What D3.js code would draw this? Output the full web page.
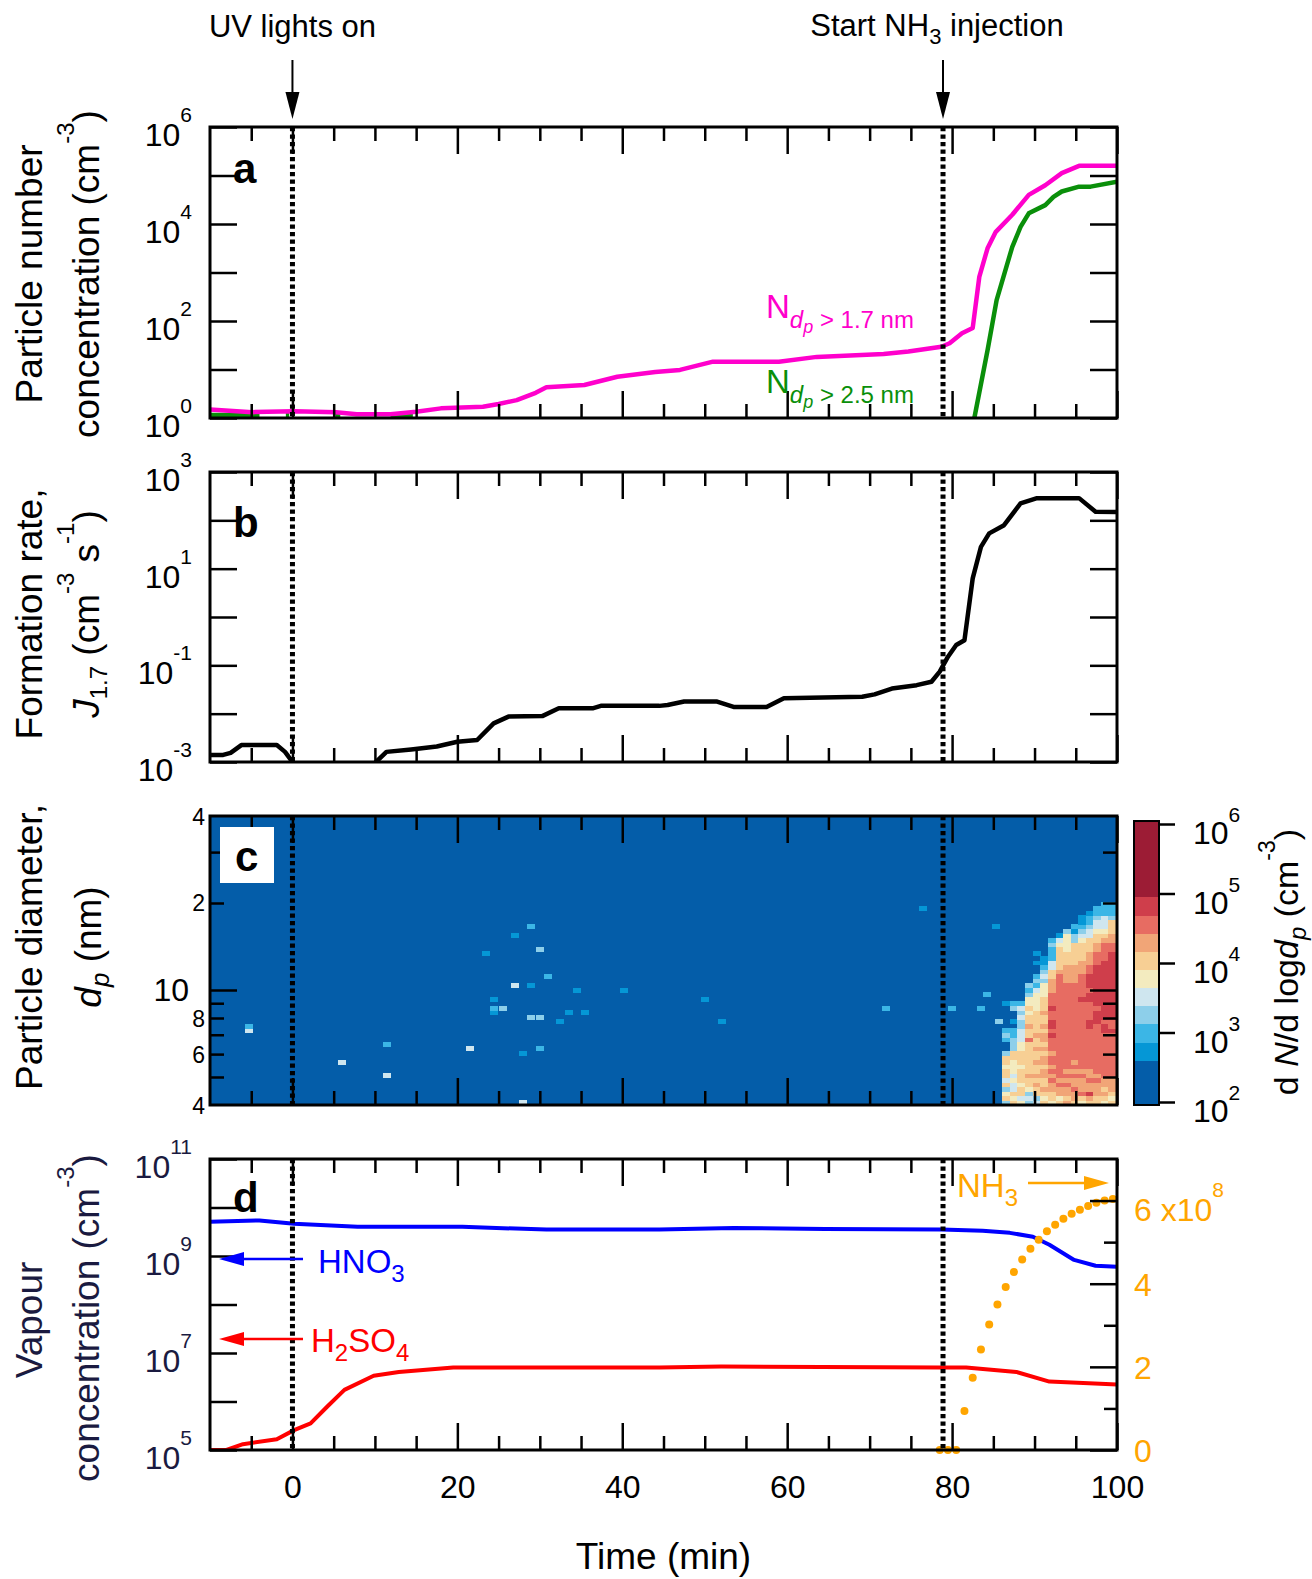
<!DOCTYPE html>
<html><head><meta charset="utf-8">
<script src="https://cdn.jsdelivr.net/npm/d3@7"></script>
<style>
body{margin:0;background:#fff}
svg{display:block}
text{font-family:"Liberation Sans",Arial,Helvetica,sans-serif;white-space:pre}
</style>
</head><body>
<svg id="chart" width="1312" height="1579"></svg>
<script>
// ---------------- DATA ----------------
// Panel a: particle number concentration (cm^-3)
const timeMag = [-10, -4.9, 0.2, 5.3, 7.8, 11.9, 15, 18, 23.1, 25, 27.2, 29.5, 30.8, 35.4, 39.4, 44, 47, 51, 59, 63.6, 71.7, 74.7, 78.7, 79.7, 81.2, 82.5, 83.3, 84.3, 85.3, 87.3, 89.3, 91.3, 93.3, 95.4, 100];
const nAbove17 = [1.5, 1.32, 1.38, 1.32, 1.2, 1.2, 1.35, 1.58, 1.7, 1.95, 2.34, 3.3, 4.3, 4.8, 7.1, 8.9, 9.8, 14.5, 14.5, 18.2, 20.9, 23.4, 29.5, 34.7, 56, 72, 813, 3160, 6900, 15500, 39800, 63100, 112000, 158000, 158000];
const timeGrn = [-10, -7, -4, -3.9, -0.8, -0.4, -0.3, 5.2, 5.8, 5.9, 11.9, 13.5, 14.6, 14.7, 82.7, 84.3, 85.4, 87.3, 88.3, 89.3, 91.3, 92.3, 93.3, 95.4, 96.8, 100];
const nAbove25 = [1.15, 1.15, 1.15, null, 1.15, 1.15, null, 1.15, 1.15, null, 1.15, 1.15, 1.15, null, 1.0, 25, 270, 3390, 8700, 16600, 24500, 36300, 46800, 58900, 58900, 74100];

// Panel b: formation rate J1.7 (cm^-3 s^-1)
const timeJ = [-10, -8.4, -7.5, -6.2, -1.9, -0.9, 0.2, 0.3, 9.85, 11.4, 14.4, 17.5, 20, 22.4, 24.4, 26.2, 30.3, 32.3, 36.4, 37.4, 44.5, 45.5, 47.5, 51.5, 53.5, 57.5, 59.6, 69.1, 70.6, 72.7, 75.7, 77.5, 78.5, 79.5, 80.5, 81.5, 82.5, 83.5, 84.5, 86.3, 88.3, 90.3, 95.4, 97.4, 100];
const j17 = [0.0014, 0.0014, 0.00155, 0.00224, 0.00224, 0.00162, 0.0009, null, 0.0009, 0.00162, 0.00182, 0.00209, 0.00263, 0.00285, 0.0063, 0.0087, 0.0089, 0.0129, 0.0129, 0.0145, 0.0145, 0.0151, 0.0178, 0.0178, 0.0138, 0.0138, 0.0209, 0.0224, 0.0251, 0.0331, 0.0389, 0.0457, 0.0741, 0.151, 0.263, 0.331, 6.3, 28.2, 53.7, 79.4, 224, 288, 288, 151, 148];

// Panel c: size distribution (level index per cell, rows from 4 nm upward)
const heatLevelColors = ["#045da9", "#0597d6", "#3bb6e6", "#8dcfea", "#cfe6ef", "#f3ebbf", "#f7cf94", "#f1a577", "#e76c62", "#cf3e4b", "#9c1c35"];
const heatLevelBounds = [1.957, 2.6, 2.86, 3.12, 3.38, 3.64, 3.9, 4.16, 4.42, 4.68, 4.95, 6.043]; // log10 dN/dlogdp
const heatDiamMin = 4, heatBinsPerDecade = 64;
const heatColEdges = [86.1, 87.0, 87.9, 88.8, 89.8, 90.7, 91.6, 92.6, 93.5, 94.4, 95.3, 96.2, 97.1, 98.0, 98.9, 100];
const heatCols = [
  "36536466566300232000001",
  "65644545556633322010032",
  "54665666566655444334342",
  "343566766666668667665655323",
  "4366767667667667666665555423200101",
  "656766776776767767667666555343211",
  "5667787878878889899889888777664422232",
  "65778788888888888888888888888766666541",
  "767787878888888888888888888777766655553",
  "6778778787888888888888888887777666663312",
  "568777878888888888888889888887776666543211",
  "6797787788888888899888899899988777666443221",
  "66777878888888888899989999999998887766544322",
  "567677888888888899899999999999998888765444222",
  "656777888888888898899999999999999988776663222"
];
const heatSpeckWidth = 0.92;
const heatSpecks = [
  [-5.7, 16, 4], [-5.7, 17, 2], [5.5, 9, 4], [11.0, 13, 2], [11.0, 6, 4], [21.0, 12, 4],
  [23.0, 33, 1], [26.5, 37, 1], [28.5, 39, 2], [29.5, 34, 3], [30.5, 28, 2], [26.5, 26, 4],
  [28.5, 26, 1], [34.0, 25, 1], [39.7, 25, 1], [23.9, 23, 1], [23.9, 20, 1], [23.9, 21, 2],
  [25.0, 21, 3], [28.5, 19, 3], [29.5, 19, 3], [33.0, 20, 1], [35.0, 20, 1], [32.0, 18, 1],
  [27.5, 11, 1], [29.5, 12, 2], [27.5, 0, 4], [49.5, 23, 1], [51.6, 18, 1], [71.5, 21, 2],
  [76.0, 43, 1], [79.5, 21, 2], [83.0, 21, 2], [83.7, 24, 2], [84.8, 39, 1], [85.2, 18, 3]
];

// Panel d: vapour concentrations
const timeHNO3 = [-10, -4, 0.2, 7.9, 20.6, 30.8, 44.5, 53.5, 64.6, 78.7, 83.7, 87, 89.8, 91.8, 94.8, 97.4, 100];
const hno3 = [5.1e9, 5.4e9, 4.6e9, 4.0e9, 4.0e9, 3.5e9, 3.5e9, 3.8e9, 3.6e9, 3.5e9, 3.3e9, 3.0e9, 2.5e9, 1.7e9, 8.3e8, 6.3e8, 6.0e8];
const timeH2SO4 = [-10, -8, -6, -1.9, 0.2, 2.2, 4.2, 6.3, 9.85, 12.9, 19.5, 44.5, 52, 78.7, 81.7, 87.8, 91.8, 100];
const h2so4 = [1e5, 1e5, 1.32e5, 1.66e5, 2.57e5, 3.55e5, 7.8e5, 1.74e6, 3.39e6, 4.07e6, 5.0e6, 5.0e6, 5.25e6, 5.0e6, 5.0e6, 4.07e6, 2.57e6, 2.24e6];
const timeNH3 = [78.5, 79.5, 80.5, 81.5, 82.5, 83.5, 84.5, 85.5, 86.5, 87.5, 88.5, 89.5, 90.5, 91.5, 92.5, 93.5, 94.5, 95.5, 96.5, 97.5, 98.5, 99.5];
const nh3 = [0, 0, 0, 0.94e8, 1.74e8, 2.42e8, 3.02e8, 3.5e8, 3.92e8, 4.28e8, 4.58e8, 4.84e8, 5.06e8, 5.26e8, 5.42e8, 5.56e8, 5.68e8, 5.78e8, 5.87e8, 5.95e8, 6.0e8, 6.04e8];

// Events and ticks
const eventTimes = [0, 78.9];
const xMajorTicks = [0, 20, 40, 60, 80, 100];
const xMinorTicks = [-5, 5, 10, 15, 25, 30, 35, 45, 50, 55, 65, 70, 75, 85, 90, 95];
const aDecades = [1, 10, 100, 1e3, 1e4, 1e5, 1e6];
const aLabels = [1, 1e2, 1e4, 1e6];
const bDecades = [1e-3, 1e-2, 1e-1, 1, 10, 100, 1e3];
const bLabels = [1e-3, 1e-1, 10, 1e3];
const cMajorTicks = [10];
const cMinorTicks = [5, 6, 7, 8, 9, 20, 30];
const cLabelVals = [4, 6, 8, 10, 20, 40];
const cLabelText = ["4", "6", "8", "10", "2", "4"];
const cbDecades = [1e2, 1e3, 1e4, 1e5, 1e6];
const dDecades = [1e5, 1e6, 1e7, 1e8, 1e9, 1e10, 1e11];
const dLabels = [1e5, 1e7, 1e9, 1e11];
const d2Major = [0, 2e8, 4e8, 6e8];
const d2Minor = [1e8, 3e8, 5e8];
const d2LabelText = ["0", "2", "4", "6 x10"];

// ---------------- DRAWING ----------------
const svg = d3.select("#chart");
const L = 210, R = 1117;
const P = { a: [127, 418], b: [472, 762], c: [816, 1105], d: [1159, 1450] };
const x = d3.scaleLinear().domain([-10, 100]).range([L, R]);
const ya = d3.scaleLog().domain([1, 1e6]).range([P.a[1], P.a[0]]);
const yb = d3.scaleLog().domain([1e-3, 1e3]).range([P.b[1], P.b[0]]);
const yc = d3.scaleLog().domain([4, 40]).range([P.c[1], P.c[0]]);
const yd = d3.scaleLog().domain([1e5, 1e11]).range([P.d[1], P.d[0]]);
const yd2 = d3.scaleLinear().domain([0, 7e8]).range([P.d[1], P.d[0]]);
const cb = d3.scaleLog().domain([1e2, 1e6]).range([1102, 824]);

const NAVY = "#1a1a40", MAG = "#ff00cc", GRN = "#0a8f0a", ORG = "#ffa500";

function rich(t, parts) {
  let cur = 0;
  parts.forEach(p => {
    const sh = p.sh || 0;
    const s = t.append("tspan").text(p.t);
    if (sh - cur !== 0) s.attr("dy", sh - cur);
    if (p.fs) s.attr("font-size", p.fs);
    if (p.it) s.attr("font-style", "italic");
    cur = sh;
  });
  return t;
}

const defs = svg.append("defs");
Object.entries(P).forEach(([k, [t, b]]) => {
  defs.append("clipPath").attr("id", "clip" + k).append("rect")
    .attr("x", L).attr("y", t).attr("width", R - L).attr("height", b - t);
});

function ticks(axisFn, scale, vals, size, tx, ty) {
  svg.append("g").attr("transform", `translate(${tx},${ty})`)
    .call(axisFn(scale).tickValues(vals).tickSize(size).tickFormat(""))
    .call(g => g.select(".domain").remove())
    .call(g => g.selectAll("line").attr("stroke", "#000").attr("stroke-width", 2.5));
}
function xTicks(top, bottom) {
  ticks(d3.axisBottom, x, xMajorTicks, -27, 0, bottom);
  ticks(d3.axisBottom, x, xMinorTicks, -14, 0, bottom);
  ticks(d3.axisTop, x, xMajorTicks, -27, 0, top);
  ticks(d3.axisTop, x, xMinorTicks, -14, 0, top);
}
function logLabels(vals, scale, xEnd, color) {
  vals.forEach(v => {
    const e = Math.round(Math.log10(v));
    const t = svg.append("text").attr("x", xEnd).attr("y", scale(v) + 19)
      .attr("text-anchor", "end").attr("font-size", 32).attr("fill", color);
    rich(t, [{ t: "10" }, { t: String(e), sh: -24, fs: 21 }]);
  });
}
function yTitle(bx, cy, parts, color) {
  const t = svg.append("text").attr("transform", `translate(${bx},${cy}) rotate(-90)`)
    .attr("text-anchor", "middle").attr("font-size", 37).attr("fill", color || "#000");
  rich(t, parts);
}
function frame(k) {
  svg.append("rect").attr("x", L).attr("y", P[k][0]).attr("width", R - L).attr("height", P[k][1] - P[k][0])
    .attr("fill", "none").attr("stroke", "#000").attr("stroke-width", 3);
}
function eventLines(k) {
  eventTimes.forEach(t => {
    svg.append("line").attr("x1", x(t)).attr("x2", x(t)).attr("y1", P[k][0]).attr("y2", P[k][1])
      .attr("stroke", "#000").attr("stroke-width", 5).attr("stroke-dasharray", "4.2,3.3");
  });
}
function panelLabel(txt, px, py) {
  svg.append("text").attr("x", px).attr("y", py).attr("font-size", 42).attr("font-weight", "bold").text(txt);
}
function linePath(k, ts, vs, ysc, color, w) {
  const data = ts.map((t, i) => [t, vs[i]]);
  svg.append("path").datum(data).attr("clip-path", `url(#clip${k})`)
    .attr("d", d3.line().defined(d => d[1] !== null).x(d => x(d[0])).y(d => ysc(d[1])))
    .attr("fill", "none").attr("stroke", color).attr("stroke-width", w)
    .attr("stroke-linejoin", "round").attr("stroke-linecap", "butt");
}

// ---- Top annotations ----
function eventArrow(t) {
  const ax = x(t);
  svg.append("line").attr("x1", ax).attr("x2", ax).attr("y1", 60).attr("y2", 96).attr("stroke", "#000").attr("stroke-width", 2);
  svg.append("path").attr("d", `M${ax - 7},92 L${ax + 7},92 L${ax},119 Z`).attr("fill", "#000");
}
eventArrow(eventTimes[0]);
eventArrow(eventTimes[1]);
svg.append("text").attr("x", x(eventTimes[0])).attr("y", 37).attr("text-anchor", "middle").attr("font-size", 31).text("UV lights on");
rich(svg.append("text").attr("x", 937).attr("y", 36).attr("text-anchor", "middle").attr("font-size", 31),
  [{ t: "Start NH" }, { t: "3", sh: 8, fs: 22 }, { t: " injection" }]);

// ---- Panel a ----
linePath("a", timeGrn, nAbove25, ya, GRN, 4.5);
linePath("a", timeMag, nAbove17, ya, MAG, 4.5);
xTicks(P.a[0], P.a[1]);
ticks(d3.axisLeft, ya, aDecades, -27, L, 0);
ticks(d3.axisRight, ya, aDecades, -27, R, 0);
eventLines("a");
frame("a");
logLabels(aLabels, ya, 192, "#000");
panelLabel("a", 233, 183);
yTitle(42, 274, [{ t: "Particle number" }]);
yTitle(99, 274, [{ t: "concentration (cm" }, { t: "-3", sh: -25, fs: 24 }, { t: ")" }]);
rich(svg.append("text").attr("x", 766).attr("y", 318).attr("font-size", 33).attr("fill", MAG),
  [{ t: "N" }, { t: "d", sh: 10, fs: 24, it: true }, { t: "p", sh: 15, fs: 18, it: true }, { t: " > 1.7 nm", sh: 10, fs: 24 }]);
rich(svg.append("text").attr("x", 766).attr("y", 393).attr("font-size", 33).attr("fill", GRN),
  [{ t: "N" }, { t: "d", sh: 10, fs: 24, it: true }, { t: "p", sh: 15, fs: 18, it: true }, { t: " > 2.5 nm", sh: 10, fs: 24 }]);

// ---- Panel b ----
linePath("b", timeJ, j17, yb, "#000", 4.5);
xTicks(P.b[0], P.b[1]);
ticks(d3.axisLeft, yb, bDecades, -27, L, 0);
ticks(d3.axisRight, yb, bDecades, -27, R, 0);
eventLines("b");
frame("b");
logLabels(bLabels, yb, 192, "#000");
panelLabel("b", 233, 537);
yTitle(42, 614, [{ t: "Formation rate," }]);
yTitle(99, 614, [{ t: "J", it: true }, { t: "1.7", sh: 8, fs: 24 }, { t: " (cm" }, { t: "-3", sh: -25, fs: 24 }, { t: " s" }, { t: "-1", sh: -25, fs: 24 }, { t: ")" }]);

// ---- Panel c (heatmap) ----
const gHeat = svg.append("g").attr("clip-path", "url(#clipc)").attr("shape-rendering", "crispEdges");
gHeat.append("rect").attr("x", x(-10)).attr("y", yc(40)).attr("width", x(100) - x(-10)).attr("height", yc(4) - yc(40))
  .attr("fill", heatLevelColors[0]);
const rowLow = r => heatDiamMin * Math.pow(10, r / heatBinsPerDecade);
const cells = [];
heatCols.forEach((col, j) => {
  col.split("").forEach((ch, r) => {
    const lev = parseInt(ch, 16);
    if (lev > 0) cells.push({ t0: heatColEdges[j], t1: heatColEdges[j + 1], r, lev });
  });
});
heatSpecks.forEach(([t, r, lev]) => cells.push({ t0: t, t1: t + heatSpeckWidth, r, lev }));
gHeat.selectAll("rect.cell").data(cells).join("rect").attr("class", "cell")
  .attr("x", d => x(d.t0)).attr("width", d => x(d.t1) - x(d.t0) + 0.4)
  .attr("y", d => yc(rowLow(d.r + 1))).attr("height", d => yc(rowLow(d.r)) - yc(rowLow(d.r + 1)) + 0.4)
  .attr("fill", d => heatLevelColors[d.lev]);
xTicks(P.c[0], P.c[1]);
ticks(d3.axisLeft, yc, cMajorTicks, -27, L, 0);
ticks(d3.axisLeft, yc, cMinorTicks, -14, L, 0);
ticks(d3.axisRight, yc, cMajorTicks, -27, R, 0);
ticks(d3.axisRight, yc, cMinorTicks, -14, R, 0);
eventLines("c");
frame("c");
cLabelVals.forEach((v, i) => {
  const big = cLabelText[i] === "10";
  svg.append("text").attr("x", big ? 189 : 205).attr("y", yc(v) + (big ? 11 : 8.5))
    .attr("text-anchor", "end").attr("font-size", big ? 32 : 23).text(cLabelText[i]);
});
svg.append("rect").attr("x", 220).attr("y", 827).attr("width", 54).attr("height", 56).attr("fill", "#fff");
panelLabel("c", 235, 871);
yTitle(42, 947, [{ t: "Particle diameter," }]);
yTitle(101, 947, [{ t: "d", it: true }, { t: "p", it: true, sh: 8, fs: 26 }, { t: " (nm)" }]);

// colour bar
const gCb = svg.append("g").attr("shape-rendering", "crispEdges");
heatLevelColors.forEach((c, i) => {
  const yTop = cb(Math.pow(10, heatLevelBounds[i + 1]));
  const yBot = cb(Math.pow(10, heatLevelBounds[i]));
  gCb.append("rect").attr("x", 1134).attr("width", 25).attr("y", yTop).attr("height", yBot - yTop + 0.3).attr("fill", c);
});
svg.append("rect").attr("x", 1134).attr("width", 25)
  .attr("y", cb(Math.pow(10, heatLevelBounds[heatLevelBounds.length - 1])))
  .attr("height", cb(Math.pow(10, heatLevelBounds[0])) - cb(Math.pow(10, heatLevelBounds[heatLevelBounds.length - 1])))
  .attr("fill", "none").attr("stroke", "#000").attr("stroke-width", 2);
ticks(d3.axisRight, cb, cbDecades, 16, 1159, 0);
cbDecades.forEach(v => {
  const t = svg.append("text").attr("x", 1193).attr("y", cb(v) + 20).attr("font-size", 32);
  rich(t, [{ t: "10" }, { t: String(Math.round(Math.log10(v))), sh: -22, fs: 21 }]);
});
rich(svg.append("text").attr("transform", "translate(1298,962) rotate(-90)").attr("text-anchor", "middle").attr("font-size", 34),
  [{ t: "d " }, { t: "N", it: true }, { t: "/d log" }, { t: "d", it: true }, { t: "p", it: true, sh: 8, fs: 24 }, { t: " (cm" }, { t: "-3", sh: -23, fs: 23 }, { t: ")" }]);

// ---- Panel d ----
linePath("d", timeHNO3, hno3, yd, "#0000ff", 4);
linePath("d", timeH2SO4, h2so4, yd, "#ff0000", 4);
svg.append("g").selectAll("circle").data(timeNH3.map((t, i) => [t, nh3[i]])).join("circle")
  .attr("cx", d => x(d[0])).attr("cy", d => yd2(d[1])).attr("r", 4).attr("fill", ORG);
xTicks(P.d[0], P.d[1]);
ticks(d3.axisLeft, yd, dDecades, -27, L, 0);
ticks(d3.axisRight, yd2, d2Major, -27, R, 0);
ticks(d3.axisRight, yd2, d2Minor, -13, R, 0);
eventLines("d");
frame("d");
logLabels(dLabels, yd, 192, NAVY);
d2Major.forEach((v, i) => {
  const t = svg.append("text").attr("x", 1134).attr("y", yd2(v) + (i === 3 ? 20 : 12)).attr("font-size", 32).attr("fill", ORG);
  if (i === 3) rich(t, [{ t: d2LabelText[i] }, { t: "8", sh: -24, fs: 21 }]);
  else t.text(d2LabelText[i]);
});
panelLabel("d", 233, 1212);
yTitle(42, 1320, [{ t: "Vapour" }], NAVY);
yTitle(99, 1318, [{ t: "concentration (cm" }, { t: "-3", sh: -25, fs: 24 }, { t: ")" }], NAVY);
// arrows and labels in panel d
function hArrow(x1, x2, y, color) {
  const dir = Math.sign(x2 - x1);
  svg.append("line").attr("x1", x1).attr("x2", x2 - dir * 20).attr("y1", y).attr("y2", y).attr("stroke", color).attr("stroke-width", 2.5);
  svg.append("path").attr("d", `M${x2},${y} L${x2 - dir * 25},${y - 7} L${x2 - dir * 25},${y + 7} Z`).attr("fill", color);
}
hArrow(303, 219, 1259, "#0000ff");
hArrow(303, 219, 1339, "#ff0000");
hArrow(1028, 1109, 1183, ORG);
rich(svg.append("text").attr("x", 318).attr("y", 1273).attr("font-size", 33).attr("fill", "#0000ff"),
  [{ t: "HNO" }, { t: "3", sh: 9, fs: 24 }]);
rich(svg.append("text").attr("x", 311).attr("y", 1352).attr("font-size", 33).attr("fill", "#ff0000"),
  [{ t: "H" }, { t: "2", sh: 9, fs: 24 }, { t: "SO" }, { t: "4", sh: 9, fs: 24 }]);
rich(svg.append("text").attr("x", 957).attr("y", 1197).attr("font-size", 33).attr("fill", ORG),
  [{ t: "NH" }, { t: "3", sh: 9, fs: 24 }]);

// x-axis labels and title
svg.append("g").attr("transform", `translate(0,${P.d[1]})`)
  .call(d3.axisBottom(x).tickValues(xMajorTicks).tickSize(0).tickPadding(0).tickFormat(d3.format("d")))
  .call(g => g.select(".domain").remove())
  .call(g => g.selectAll("text").attr("font-size", 32).attr("font-family", null).attr("fill", "#000").attr("dy", null).attr("y", 48));
svg.append("text").attr("x", (L + R) / 2).attr("y", 1569).attr("text-anchor", "middle").attr("font-size", 37).text("Time (min)");
</script>
</body></html>
